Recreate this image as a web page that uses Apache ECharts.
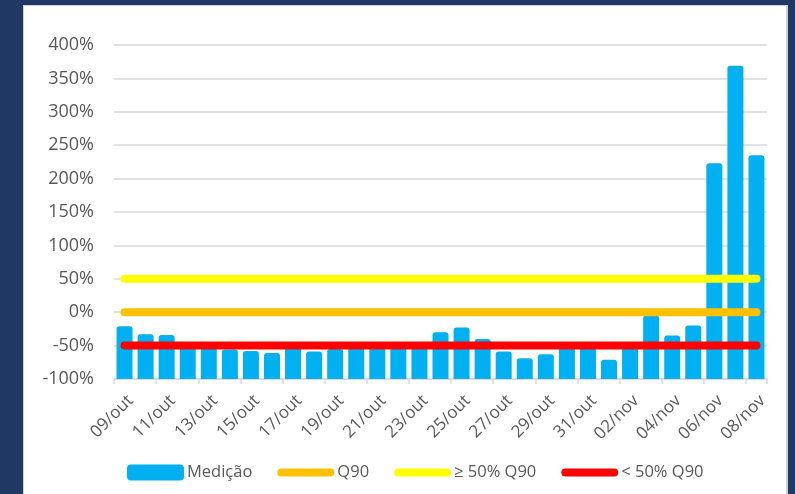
<!DOCTYPE html>
<html>
<head>
<meta charset="utf-8">
<script src="https://cdn.jsdelivr.net/npm/echarts@6/dist/echarts.min.js"></script>
<style>
  html, body { margin: 0; padding: 0; width: 795px; height: 494px; overflow: hidden; background: #203864; }
  #panel { position: absolute; left: 23px; top: 5px; width: 762px; height: 500px; background: #ffffff; border: 1px solid #d0d0d0; border-right: 2px solid #d0d0d0; }
  #chart { position: absolute; left: 0; top: 0; width: 795px; height: 494px; }
</style>
</head>
<body>
<div id="panel"></div>
<div id="chart"></div>
<script>
// Categories (dates)
const categories = [
  '09/out','10/out','11/out','12/out','13/out','14/out','15/out','16/out','17/out','18/out',
  '19/out','20/out','21/out','22/out','23/out','24/out','25/out','26/out','27/out','28/out',
  '29/out','30/out','31/out','01/nov','02/nov','03/nov','04/nov','05/nov','06/nov','07/nov','08/nov'
];
// Medição (% relative to Q90)
const medicao = [
  -21, -33, -34, -52, -52, -56, -58, -61, -52, -59,
  -55, -53, -53, -53, -53, -30, -23, -40, -59, -69,
  -63, -52, -52, -71, -52, -5, -35, -20, 223, 369, 235
];
// Reference levels (%)
const q90Level = 0;
const above50Level = 50;
const below50Level = -50;
// Y axis tick range (%)
const yMin = -100;
const yMax = 400;
const yStep = 50;

const offset = -yMin; // bars rise from the axis floor (-100%)
const q90 = categories.map(() => q90Level);
const above50 = categories.map(() => above50Level);
const below50 = categories.map(() => below50Level);

const font = 'Open Sans';
const txt = '#595959';
const lineIcon = 'path://M4,0 L53,0 A4,4 0 0 1 53,8 L4,8 A4,4 0 0 1 4,0 Z';

const chart = echarts.init(document.getElementById('chart'), null, { renderer: 'canvas' });
chart.setOption({
  backgroundColor: 'transparent',
  animation: false,
  grid: { left: 114, right: 28, top: 45, bottom: 115, containLabel: false },
  legend: {
    left: 122,
    top: 459,
    itemWidth: 57,
    itemHeight: 16,
    itemGap: 25,
    textStyle: { fontFamily: font, fontSize: 16.5, color: txt, padding: [0, 0, 0, -2] },
    data: [
      { name: 'Medição', icon: 'roundRect' },
      { name: 'Q90', icon: lineIcon },
      { name: '≥ 50% Q90', icon: lineIcon },
      { name: '< 50% Q90', icon: lineIcon }
    ]
  },
  xAxis: {
    type: 'category',
    data: categories,
    boundaryGap: true,
    axisLine: { lineStyle: { color: '#d9d9d9', width: 1.5 } },
    axisTick: { show: true, interval: 1, length: 5, lineStyle: { color: '#d9d9d9', width: 1.5 } },
    axisLabel: { interval: 1, rotate: 45, margin: 13, verticalAlign: 'top', fontFamily: font, fontSize: 17, color: txt }
  },
  yAxis: {
    type: 'value',
    min: yMin + offset,
    max: yMax + offset,
    interval: yStep,
    axisLine: { show: false },
    axisTick: { show: false },
    splitLine: { lineStyle: { color: '#d9d9d9', width: 1.5 } },
    axisLabel: {
      margin: 20,
      fontFamily: font, fontSize: 18, color: txt,
      formatter: v => (v - offset) + '%'
    }
  },
  series: [
    {
      name: 'Medição',
      type: 'bar',
      barWidth: 16,
      data: medicao.map(v => v + offset),
      itemStyle: { color: '#00B0F0', borderRadius: [3, 3, 0, 0] },
      z: 2
    },
    {
      name: 'Q90', type: 'line', symbol: 'none',
      data: q90.map(v => v + offset),
      lineStyle: { color: '#FFC000', width: 8, cap: 'round' },
      itemStyle: { color: '#FFC000' }, z: 3
    },
    {
      name: '≥ 50% Q90', type: 'line', symbol: 'none',
      data: above50.map(v => v + offset),
      lineStyle: { color: '#FFFF00', width: 8, cap: 'round' },
      itemStyle: { color: '#FFFF00' }, z: 3
    },
    {
      name: '< 50% Q90', type: 'line', symbol: 'none',
      data: below50.map(v => v + offset),
      lineStyle: { color: '#FF0000', width: 8, cap: 'round' },
      itemStyle: { color: '#FF0000' }, z: 3
    }
  ]
});
</script>
</body>
</html>
